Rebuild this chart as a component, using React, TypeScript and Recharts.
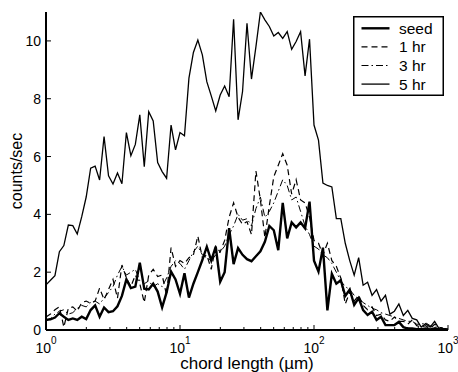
import React from 'react';
import { LineChart, Line, XAxis, YAxis, Legend } from 'recharts';

const FONT = '"Liberation Sans", Arial, Helvetica, sans-serif';

// chord length channels (µm), log spaced
const CHORD = [
  1, 1.08, 1.166, 1.259, 1.359, 1.468, 1.585, 1.711, 1.848, 1.995,
  2.154, 2.326, 2.512, 2.712, 2.929, 3.162, 3.415, 3.687, 3.981, 4.299,
  4.642, 5.012, 5.412, 5.843, 6.31, 6.813, 7.356, 7.943, 8.577, 9.261,
  10, 10.8, 11.66, 12.59, 13.59, 14.68, 15.85, 17.11, 18.48, 19.95,
  21.54, 23.26, 25.12, 27.12, 29.29, 31.62, 34.15, 36.87, 39.81, 42.99,
  46.42, 50.12, 54.12, 58.43, 63.1, 68.13, 73.56, 79.43, 85.77, 92.61,
  100, 108, 116.6, 125.9, 135.9, 146.8, 158.5, 171.1, 184.8, 199.5,
  215.4, 232.6, 251.2, 271.2, 292.9, 316.2, 341.5, 368.7, 398.1, 429.9,
  464.2, 501.2, 541.2, 584.3, 631, 681.3, 735.6, 794.3, 857.7, 926.1,
  1000,
];

const SEED = [
  0.35, 0.37, 0.43, 0.58, 0.46, 0.35, 0.40, 0.35, 0.46, 0.38,
  0.69, 0.85, 0.46, 0.78, 0.62, 0.65, 0.82, 1.18, 1.75, 1.45,
  1.50, 2.33, 1.43, 1.40, 1.60, 1.33, 0.78, 1.30, 2.02, 1.75,
  1.25, 1.96, 1.12, 1.60, 2.00, 2.42, 2.88, 2.40, 2.88, 1.67,
  2.00, 3.52, 2.28, 2.83, 2.60, 2.45, 2.38, 2.55, 2.72, 3.05,
  3.60, 3.45, 2.76, 4.40, 3.17, 3.72, 3.55, 3.72, 3.52, 4.44,
  2.40, 2.02, 2.85, 0.68, 1.94, 1.60, 1.72, 1.18, 1.40, 0.87,
  1.10, 0.69, 0.52, 0.63, 0.35, 0.46, 0.17, 0.17, 0.17, 0.28,
  0.10, 0.05, 0.05, 0.03, 0.03, 0.05, 0.02, 0.05, 0.02, 0.02,
  0.02,
];

const HR1 = [
  0.45, 0.55, 0.70, 0.80, 0.10, 0.75, 0.80, 0.65, 0.95, 1.00,
  0.92, 1.00, 1.45, 1.05, 1.40, 1.75, 1.10, 2.25, 1.80, 1.50,
  1.90, 1.60, 0.95, 1.90, 2.10, 1.85, 1.90, 1.20, 2.85, 2.20,
  2.40, 2.30, 2.50, 2.60, 3.25, 2.50, 2.60, 2.10, 2.90, 2.70,
  3.10, 3.90, 4.40, 3.90, 3.65, 3.75, 3.30, 5.50, 4.50, 3.20,
  4.30, 5.30, 5.70, 6.10, 5.70, 4.70, 5.20, 4.50, 4.40, 3.90,
  3.10, 3.00, 2.60, 3.00, 2.40, 2.20, 1.80, 0.90, 1.30, 1.00,
  1.20, 0.85, 0.70, 0.80, 0.50, 0.55, 0.35, 0.30, 0.45, 0.30,
  0.30, 0.20, 0.35, 0.15, 0.10, 0.15, 0.05, 0.20, 0.10, 0.05,
  0.05,
];

const HR3 = [
  0.30, 0.40, 0.55, 0.65, 0.70, 0.55, 0.60, 0.75, 0.85, 0.80,
  0.95, 1.00, 0.90, 1.10, 1.30, 1.50, 1.90, 2.20, 1.90, 2.00,
  2.10, 1.70, 1.60, 1.70, 1.50, 1.60, 1.50, 1.80, 2.20, 2.40,
  2.30, 2.10, 2.40, 2.70, 2.90, 2.60, 2.50, 2.40, 2.60, 2.70,
  2.90, 3.30, 3.60, 4.00, 3.80, 3.85, 3.60, 4.20, 4.60, 3.90,
  4.10, 4.40, 4.80, 5.20, 5.00, 4.50, 4.60, 4.10, 3.60, 3.30,
  2.90, 2.80, 2.60, 2.50, 2.30, 2.00, 1.70, 1.50, 1.40, 1.20,
  1.10, 0.95, 0.85, 0.75, 0.70, 0.60, 0.55, 0.50, 0.45, 0.40,
  0.35, 0.30, 0.30, 0.20, 0.20, 0.25, 0.15, 0.10, 0.10, 0.05,
  0.05,
];

const HR5 = [
  1.56, 1.72, 1.88, 2.71, 2.92, 3.63, 3.61, 3.32, 3.92, 4.60,
  5.60, 5.67, 5.19, 6.69, 5.33, 5.05, 5.43, 5.06, 6.83, 6.03,
  6.42, 7.44, 5.65, 7.55, 7.23, 5.79, 5.48, 5.25, 7.09, 6.23,
  6.83, 6.72, 8.71, 9.60, 10.03, 9.52, 8.59, 8.10, 7.58, 8.13,
  8.44, 8.07, 10.75, 7.27, 8.25, 10.61, 8.68, 9.80, 11.0, 10.73,
  10.50, 10.17, 10.29, 10.09, 10.32, 9.71, 9.98, 10.32, 8.79, 10.06,
  7.09, 6.57, 5.08, 5.00, 4.95, 3.85, 3.85, 3.00, 2.40, 1.90,
  2.50, 1.55, 1.65, 1.20, 1.40, 1.00, 1.20, 0.55, 0.65, 0.90,
  0.50, 0.68, 0.40, 0.35, 0.10, 0.22, 0.10, 0.30, 0.05, 0.02,
  0.02,
];

const MAJOR_X = [1, 10, 100, 1000];
const EXPONENTS = ['0', '1', '2', '3'];
const X_TICKS = [
  1, 2, 3, 4, 5, 6, 7, 8, 9,
  10, 20, 30, 40, 50, 60, 70, 80, 90,
  100, 200, 300, 400, 500, 600, 700, 800, 900,
  1000,
];
const Y_TICKS = [0, 2, 4, 6, 8, 10];

const SERIES = [
  { key: 'seed', name: 'seed', width: 2.4, dash: undefined as string | undefined },
  { key: 'hr1', name: '1 hr', width: 1.2, dash: '6 4' },
  { key: 'hr3', name: '3 hr', width: 1, dash: '7 3 1.5 3' },
  { key: 'hr5', name: '5 hr', width: 1.3, dash: undefined as string | undefined },
];

const data = CHORD.map((x, i) => ({
  x,
  seed: SEED[i],
  hr1: HR1[i],
  hr3: HR3[i],
  hr5: HR5[i],
}));

const BottomTick = (props: any) => {
  const { x, y, payload } = props;
  const idx = MAJOR_X.indexOf(payload.value);
  const major = idx >= 0;
  return (
    <g>
      <line x1={x} x2={x} y1={y} y2={y - (major ? 5 : 3)} stroke="#000" strokeWidth={1} />
      {major && (
        <text x={x} y={y + 23} fontSize={14} fontFamily={FONT} textAnchor="middle" fill="#000">
          <tspan>10</tspan>
          <tspan dy={-9} fontSize={10}>{EXPONENTS[idx]}</tspan>
        </text>
      )}
    </g>
  );
};

const TopTick = (props: any) => {
  const { x, y, payload } = props;
  const major = MAJOR_X.indexOf(payload.value) >= 0;
  return <line x1={x} x2={x} y1={y} y2={y + (major ? 5 : 3)} stroke="#000" strokeWidth={1} />;
};

const LeftTick = (props: any) => {
  const { x, y, payload } = props;
  return (
    <g>
      <line x1={x} x2={x + 5} y1={y} y2={y} stroke="#000" strokeWidth={1} />
      <text x={x - 5} y={y + 5} fontSize={14} fontFamily={FONT} textAnchor="end" fill="#000">
        {payload.value}
      </text>
    </g>
  );
};

const RightTick = (props: any) => {
  const { x, y } = props;
  return <line x1={x} x2={x - 5} y1={y} y2={y} stroke="#000" strokeWidth={1} />;
};

const YLabel = (props: any) => {
  const vb = props.viewBox || { x: 0, y: 12, width: 46, height: 318 };
  const cx = vb.x + 22;
  const cy = vb.y + vb.height / 2;
  return (
    <text
      x={cx}
      y={cy}
      transform={`rotate(-90 ${cx} ${cy})`}
      textAnchor="middle"
      fontSize={16}
      fontFamily={FONT}
      fill="#000"
    >
      counts/sec
    </text>
  );
};

const XLabel = (props: any) => {
  const vb = props.viewBox || { x: 46, y: 330, width: 402, height: 42 };
  return (
    <text
      x={vb.x + vb.width / 2}
      y={vb.y + 39}
      textAnchor="middle"
      fontSize={17}
      fontFamily={FONT}
      fill="#000"
    >
      chord length (µm)
    </text>
  );
};

const LegendBox = () => (
  <svg width={91} height={80} style={{ display: 'block' }}>
    <rect x={0.75} y={0.75} width={89.5} height={78.5} fill="#fff" stroke="#000" strokeWidth={1.5} />
    {SERIES.map((s, i) => {
      const cy = 12.3 + i * 18.6;
      return (
        <g key={s.key}>
          <line x1={8.5} x2={36.5} y1={cy} y2={cy} stroke="#000" strokeWidth={s.width} strokeDasharray={s.dash} />
          <text x={46} y={cy + 5.5} fontSize={15.5} fontFamily={FONT} fill="#000">
            {s.name}
          </text>
        </g>
      );
    })}
  </svg>
);

export default function App() {
  return (
    <div style={{ position: 'absolute', left: 0, top: 0, width: 458, height: 372, background: '#fff' }}>
      <LineChart width={458} height={372} data={data} margin={{ top: 12, right: 10, bottom: 0, left: 0 }}>
        <XAxis
          dataKey="x"
          type="number"
          scale="log"
          domain={[1, 1000]}
          allowDataOverflow
          ticks={X_TICKS}
          interval={0}
          tick={<BottomTick />}
          tickLine={false}
          tickSize={0}
          tickMargin={0}
          height={42}
          axisLine={{ stroke: '#000', strokeWidth: 2 }}
          label={<XLabel />}
        />
        <XAxis
          xAxisId="top"
          orientation="top"
          dataKey="x"
          type="number"
          scale="log"
          domain={[1, 1000]}
          allowDataOverflow
          ticks={X_TICKS}
          interval={0}
          tick={<TopTick />}
          tickLine={false}
          tickSize={0}
          tickMargin={0}
          height={0}
          axisLine={{ stroke: '#000', strokeWidth: 2 }}
        />
        <YAxis
          type="number"
          domain={[0, 11]}
          allowDataOverflow
          ticks={Y_TICKS}
          interval={0}
          tick={<LeftTick />}
          tickLine={false}
          tickSize={0}
          tickMargin={0}
          width={46}
          axisLine={{ stroke: '#000', strokeWidth: 2 }}
          label={<YLabel />}
        />
        <YAxis
          yAxisId="right"
          orientation="right"
          type="number"
          domain={[0, 11]}
          allowDataOverflow
          ticks={Y_TICKS}
          interval={0}
          tick={<RightTick />}
          tickLine={false}
          tickSize={0}
          tickMargin={0}
          width={0}
          axisLine={{ stroke: '#000', strokeWidth: 2 }}
        />
        <Line type="linear" dataKey="hr5" stroke="#000" strokeWidth={1.3} dot={false} isAnimationActive={false} />
        <Line type="linear" dataKey="hr3" stroke="#000" strokeWidth={1} strokeDasharray="7 3 1.5 3" dot={false} isAnimationActive={false} />
        <Line type="linear" dataKey="hr1" stroke="#000" strokeWidth={1.2} strokeDasharray="6 4" dot={false} isAnimationActive={false} />
        <Line type="linear" dataKey="seed" stroke="#000" strokeWidth={2.4} dot={false} isAnimationActive={false} />
        <Legend
          layout="horizontal"
          verticalAlign="middle"
          align="center"
          content={() => <LegendBox />}
          wrapperStyle={{ left: 353, top: 16, width: 91, height: 80, right: 'auto', bottom: 'auto' }}
        />
      </LineChart>
    </div>
  );
}
